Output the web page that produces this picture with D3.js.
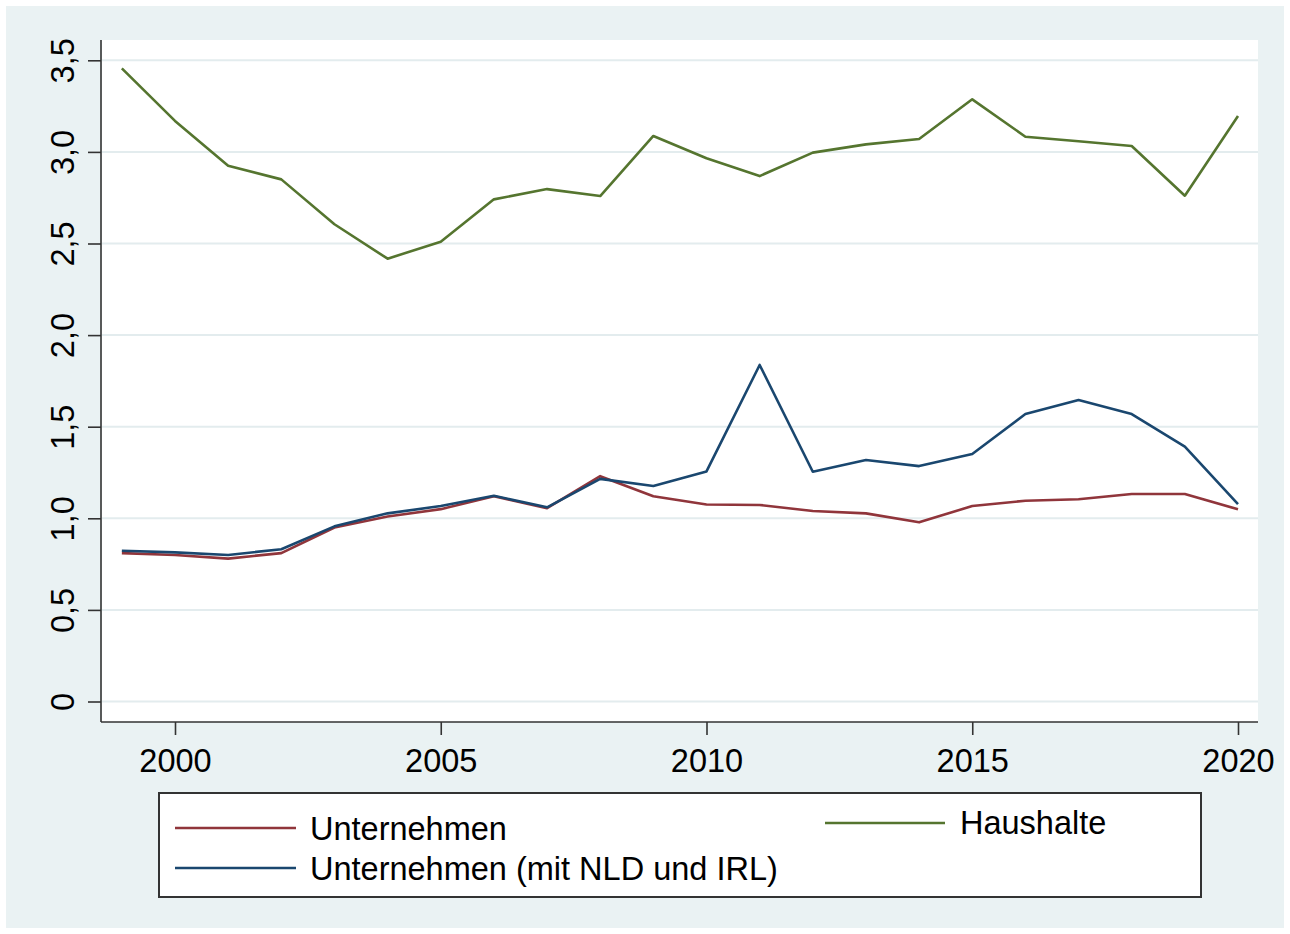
<!DOCTYPE html>
<html>
<head>
<meta charset="utf-8">
<script src="https://cdn.jsdelivr.net/npm/d3@7"></script>
<style>
  body { margin: 0; background: #fff; }
  svg { display: block; font-family: "Liberation Sans", Arial, sans-serif; }
</style>
</head>
<body>
<div id="chart"></div>
<script>
const years = [1999, 2000, 2001, 2002, 2003, 2004, 2005, 2006, 2007, 2008, 2009,
  2010, 2011, 2012, 2013, 2014, 2015, 2016, 2017, 2018, 2019, 2020];
const unternehmen = [0.81, 0.80, 0.78, 0.81, 0.95, 1.01, 1.05, 1.12, 1.055, 1.23, 1.12,
  1.075, 1.073, 1.04, 1.027, 0.978, 1.067, 1.096, 1.104, 1.133, 1.133, 1.049];
const unternehmenNldIrl = [0.823, 0.814, 0.80, 0.831, 0.956, 1.027, 1.067, 1.123, 1.06, 1.215, 1.176,
  1.256, 1.837, 1.254, 1.318, 1.285, 1.351, 1.569, 1.646, 1.569, 1.391, 1.078];
const haushalte = [3.456, 3.169, 2.925, 2.85, 2.605, 2.417, 2.51, 2.741, 2.797, 2.759, 3.087,
  2.965, 2.868, 2.996, 3.041, 3.07, 3.287, 3.083, 3.058, 3.032, 2.761, 3.196];
const yTicks = [0, 0.5, 1, 1.5, 2, 2.5, 3, 3.5];
const xTicks = [2000, 2005, 2010, 2015, 2020];

const series = [
  { name: "Unternehmen", values: unternehmen, color: "#90353b" },
  { name: "Unternehmen (mit NLD und IRL)", values: unternehmenNldIrl, color: "#1a476f" },
  { name: "Haushalte", values: haushalte, color: "#55752f" }
];

const W = 1290, H = 934;
const plot = { left: 102, right: 1258, top: 40, bottom: 722 };
const fontSize = 32.5;

const svg = d3.select("#chart").append("svg")
  .attr("width", W).attr("height", H);

// graph region background
svg.append("rect")
  .attr("x", 6).attr("y", 6).attr("width", 1278).attr("height", 922)
  .attr("fill", "#eaf2f3");

// plot region
svg.append("rect")
  .attr("x", plot.left).attr("y", plot.top)
  .attr("width", plot.right - plot.left).attr("height", plot.bottom - plot.top)
  .attr("fill", "#fff");

const x = d3.scaleLinear().domain([2000, 2020]).range([175, 1238]);
const y = d3.scaleLinear().domain([0, 3.5]).range([701.5, 60.3]);

// grid
svg.append("g").selectAll("line").data(yTicks).join("line")
  .attr("x1", plot.left).attr("x2", plot.right)
  .attr("y1", d => y(d)).attr("y2", d => y(d))
  .attr("stroke", "#e3ecee").attr("stroke-width", 2);

const fmt = v => v === 0 ? "0" : d3.format(".1f")(v).replace(".", ",");

// y axis
const yAxis = d3.axisLeft(y).tickValues(yTicks).tickSize(13).tickPadding(0).tickFormat(fmt);
const gy = svg.append("g").attr("transform", `translate(${plot.left - 1},0)`).call(yAxis);
gy.select(".domain").attr("d", `M0,${plot.top}V${plot.bottom}`)
  .attr("stroke", "#333").attr("stroke-width", 1.6);
gy.selectAll(".tick line").attr("stroke", "#333").attr("stroke-width", 1.6);
gy.selectAll(".tick text")
  .attr("x", 0).attr("dy", null)
  .attr("transform", "translate(-27,0) rotate(-90)")
  .attr("text-anchor", "middle")
  .attr("font-size", fontSize).attr("font-family", "Liberation Sans, Arial, sans-serif")
  .attr("fill", "#000");

// x axis
const xAxis = d3.axisBottom(x).tickValues(xTicks).tickSize(13).tickFormat(d3.format("d"));
const gx = svg.append("g").attr("transform", `translate(0,${plot.bottom})`).call(xAxis);
gx.select(".domain").attr("d", `M${plot.left - 1},0H${plot.right}`)
  .attr("stroke", "#333").attr("stroke-width", 1.6);
gx.selectAll(".tick line").attr("stroke", "#333").attr("stroke-width", 1.6);
gx.selectAll(".tick text")
  .attr("y", 50).attr("dy", null)
  .attr("font-size", fontSize).attr("font-family", "Liberation Sans, Arial, sans-serif")
  .attr("fill", "#000");

// lines
const line = d3.line().x((d, i) => x(years[i])).y(d => y(d));
svg.append("g").selectAll("path").data(series).join("path")
  .attr("d", d => line(d.values))
  .attr("fill", "none")
  .attr("stroke", d => d.color)
  .attr("stroke-width", 2.6)
  .attr("stroke-linejoin", "round");

// legend
const legend = svg.append("g");
legend.append("rect")
  .attr("x", 159).attr("y", 793).attr("width", 1042).attr("height", 104)
  .attr("fill", "#fff").attr("stroke", "#333").attr("stroke-width", 2);

const legendItems = [
  { s: series[0], x0: 175, x1: 296, ly: 828, tx: 310, ty: 840 },
  { s: series[1], x0: 175, x1: 296, ly: 868, tx: 310, ty: 880 },
  { s: series[2], x0: 825, x1: 945, ly: 823, tx: 960, ty: 834 }
];
const li = legend.selectAll("g.item").data(legendItems).join("g").attr("class", "item");
li.append("line")
  .attr("x1", d => d.x0).attr("x2", d => d.x1)
  .attr("y1", d => d.ly).attr("y2", d => d.ly)
  .attr("stroke", d => d.s.color).attr("stroke-width", 2.6);
li.append("text")
  .attr("x", d => d.tx).attr("y", d => d.ty)
  .attr("font-size", fontSize).attr("fill", "#000")
  .text(d => d.s.name);
</script>
</body>
</html>
